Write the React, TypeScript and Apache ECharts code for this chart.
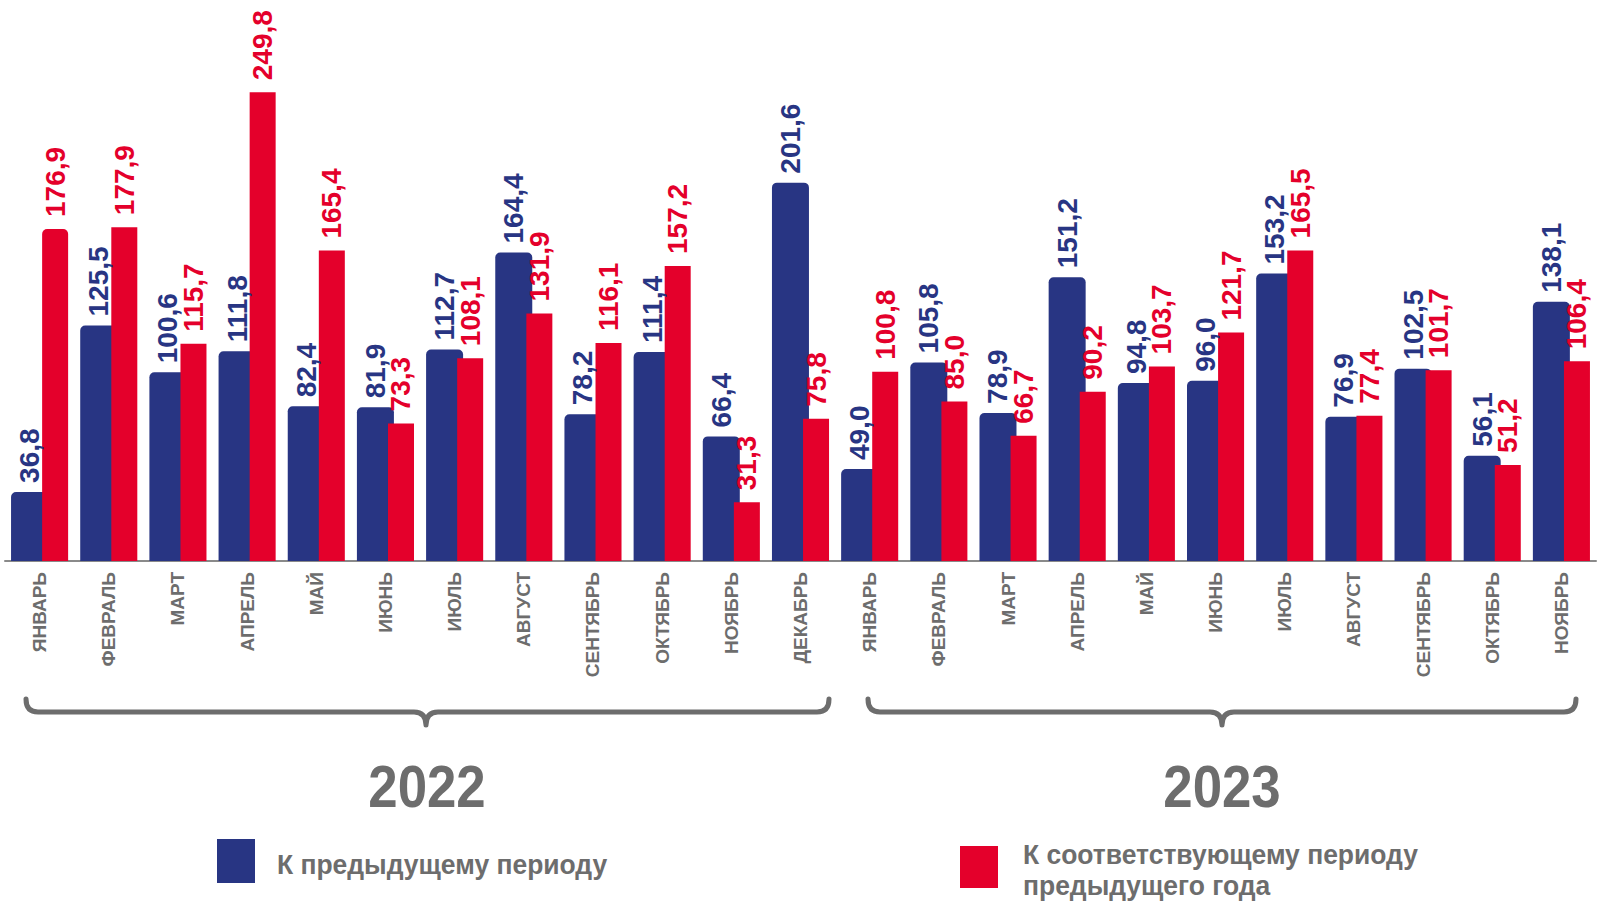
import React, { useEffect, useRef } from "react";
import * as echarts from "echarts";

const months = ["ЯНВАРЬ", "ФЕВРАЛЬ", "МАРТ", "АПРЕЛЬ", "МАЙ", "ИЮНЬ", "ИЮЛЬ", "АВГУСТ", "СЕНТЯБРЬ", "ОКТЯБРЬ", "НОЯБРЬ", "ДЕКАБРЬ"];
const years = ["2022", "2023"];
const monthsPerYear = [12, 11];

const prevPeriod = [
  36.8, 125.5, 100.6, 111.8, 82.4, 81.9, 112.7, 164.4, 78.2, 111.4, 66.4, 201.6,
  49.0, 105.8, 78.9, 151.2, 94.8, 96.0, 153.2, 76.9, 102.5, 56.1, 138.1,
];
const prevYear = [
  176.9, 177.9, 115.7, 249.8, 165.4, 73.3, 108.1, 131.9, 116.1, 157.2, 31.3, 75.8,
  100.8, 85.0, 66.7, 90.2, 103.7, 121.7, 165.5, 77.4, 101.7, 51.2, 106.4,
];
const seriesNames = ["К предыдущему периоду", "К соответствующему периоду\nпредыдущего года"];

const BLUE = "#283583";
const RED = "#e4002b";
const GRAY = "#6d6d6d";
const SANS = '"Liberation Sans", Arial, sans-serif';

const categories: string[] = [];
years.forEach((y, yi) => {
  for (let i = 0; i < monthsPerYear[yi]; i++) categories.push(months[i] + "|" + y);
});

const fmt = (v: number) => v.toFixed(1).replace(".", ",");

function bracePath(x1: number, x2: number, tip: number, yTop: number, yLine: number, yTip: number) {
  const r = 12;
  return `M${x1},${yTop} Q${x1},${yLine} ${x1 + r},${yLine} L${tip - r},${yLine} Q${tip},${yLine} ${tip},${yTip} Q${tip},${yLine} ${tip + r},${yLine} L${x2 - r},${yLine} Q${x2},${yLine} ${x2},${yTop}`;
}

echarts.graphic.registerShape("brace2022", echarts.graphic.extendPath(bracePath(26, 829, 426, 699, 712, 725), {}));
echarts.graphic.registerShape("brace2023", echarts.graphic.extendPath(bracePath(868, 1576, 1222, 699, 712, 725), {}));

export default function App() {
  const ref = useRef<HTMLDivElement>(null);
  useEffect(() => {
    if (!ref.current) return;
    const chart = echarts.init(ref.current, undefined, { renderer: "svg" });
    const braceStyle = { stroke: GRAY, fill: "none", lineWidth: 5, lineCap: "round", lineJoin: "round" };
    const valueLabel = (color: string, distance: number) => ({
      show: true,
      position: "top",
      rotate: 90,
      align: "left",
      verticalAlign: "middle",
      distance,
      color,
      fontSize: 28,
      fontWeight: "bold",
      fontFamily: SANS,
      formatter: (p: any) => fmt(p.value),
    });
    chart.setOption({
      animation: false,
      grid: { left: 5, right: 19, top: 13, bottom: 346, containLabel: false },
      xAxis: {
        type: "category",
        data: categories,
        axisTick: { show: false },
        axisLine: { lineStyle: { color: "#8a8a8a", width: 2 } },
        axisLabel: {
          rotate: 90,
          interval: 0,
          margin: 11,
          color: GRAY,
          fontSize: 19,
          fontWeight: "bold",
          fontFamily: SANS,
          formatter: (v: string) => v.split("|")[0],
        },
      },
      yAxis: { type: "value", min: 0, max: 292, show: false, splitLine: { show: false } },
      series: [
        {
          name: seriesNames[0],
          type: "bar",
          data: prevPeriod,
          barWidth: 37,
          barGap: "-16%",
          itemStyle: { color: BLUE, borderRadius: [5, 5, 0, 0] },
          label: valueLabel(BLUE, 9),
        },
        {
          name: seriesNames[1],
          type: "bar",
          data: prevYear.map((v, i) => (i === 0 ? { value: v, itemStyle: { borderRadius: [5, 5, 0, 0] } } : v)),
          barWidth: 26,
          itemStyle: { color: RED },
          label: valueLabel(RED, 12),
        },
      ],
      graphic: [
        { type: "brace2022", x: 0, y: 0, style: braceStyle },
        { type: "brace2023", x: 0, y: 0, style: braceStyle },
        {
          type: "text",
          x: 427,
          y: 786,
          scaleX: 0.88,
          style: { text: years[0], fill: GRAY, fontSize: 60, fontWeight: "bold", fontFamily: SANS, align: "center", verticalAlign: "middle" },
        },
        {
          type: "text",
          x: 1222,
          y: 786,
          scaleX: 0.88,
          style: { text: years[1], fill: GRAY, fontSize: 60, fontWeight: "bold", fontFamily: SANS, align: "center", verticalAlign: "middle" },
        },
        { type: "rect", shape: { x: 217, y: 839, width: 38, height: 44 }, style: { fill: BLUE } },
        {
          type: "text",
          x: 277,
          y: 865,
          scaleX: 0.98,
          style: { text: seriesNames[0], fill: GRAY, fontSize: 27, fontWeight: "bold", fontFamily: SANS, align: "left", verticalAlign: "middle" },
        },
        { type: "rect", shape: { x: 960, y: 846, width: 38, height: 42 }, style: { fill: RED } },
        {
          type: "text",
          x: 1023,
          y: 870,
          scaleX: 0.98,
          style: { text: seriesNames[1], fill: GRAY, fontSize: 27, lineHeight: 31, fontWeight: "bold", fontFamily: SANS, align: "left", verticalAlign: "middle" },
        },
      ],
    });
    return () => chart.dispose();
  }, []);
  return <div ref={ref} style={{ position: "absolute", left: 0, top: 0, width: 1615, height: 907 }} />;
}
